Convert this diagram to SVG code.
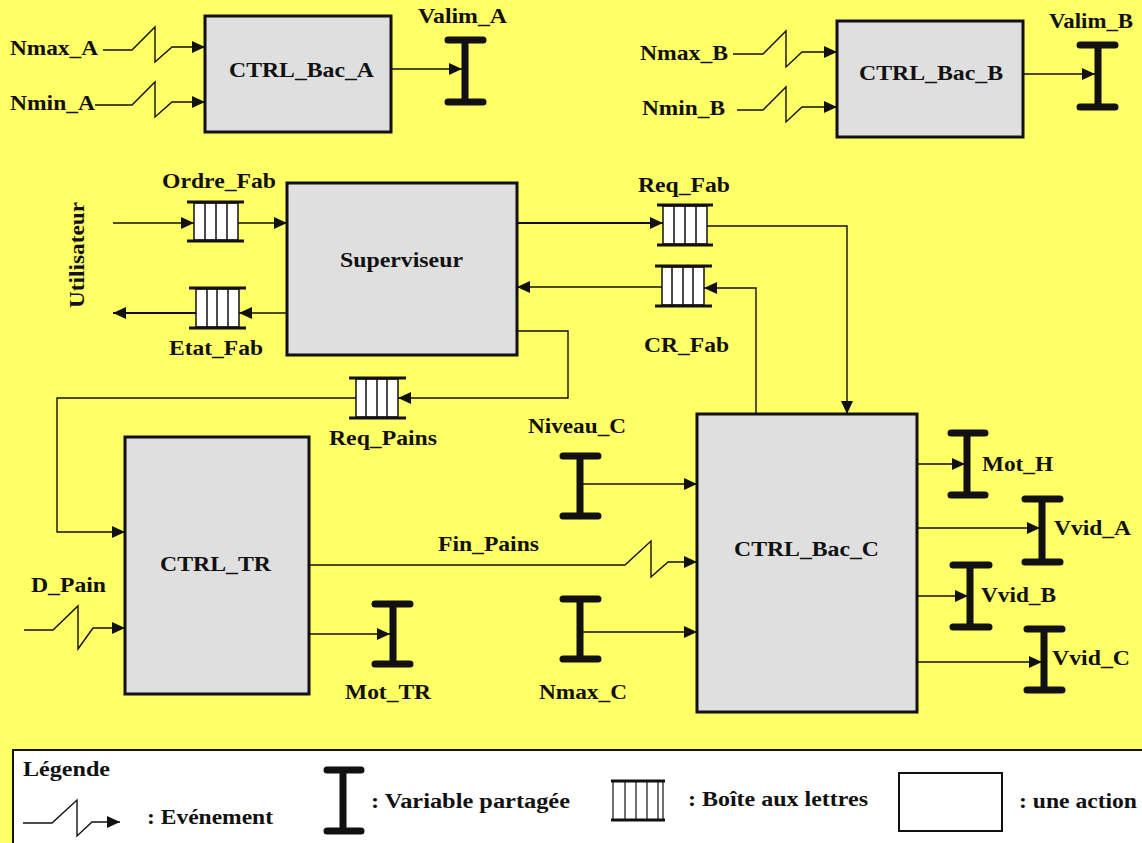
<svg xmlns="http://www.w3.org/2000/svg" width="1142" height="843" viewBox="0 0 1142 843" font-family="Liberation Serif, DejaVu Serif, serif">
<defs>
<style>
.bg{fill:#FFFF66}
.box{fill:#DFDFDF;stroke:#111;stroke-width:3}
.lbl{font-size:22px;font-weight:bold;fill:#111}
.leg{font-size:20px;font-weight:bold;fill:#111}
.ln{fill:none;stroke:#111;stroke-width:1.4}
.lnb{fill:none;stroke:#111;stroke-width:2.2}
.var{fill:none;stroke:#111;stroke-width:7;stroke-linecap:round}
.mbh{stroke:#111;stroke-width:3}
.mbi{fill:#fff;stroke:#111;stroke-width:1.5}
</style>
<marker id="ah" markerUnits="userSpaceOnUse" markerWidth="14" markerHeight="12" refX="13" refY="6" orient="auto">
<path d="M0,0 L13,6 L0,12 z" fill="#111"/>
</marker>
</defs>
<rect class="bg" x="0" y="0" width="1142" height="843"/>

<g id="connectors">
<polyline class="ln" points="103,50 132,50 155,27 155,62 172,47 205,47" marker-end="url(#ah)"/>
<polyline class="ln" points="95,105 132,105 155,82 155,117 172,102 205,102" marker-end="url(#ah)"/>
<line class="ln" x1="392" y1="69" x2="462" y2="69" marker-end="url(#ah)"/>
<polyline class="ln" points="733,54 763,54 786,31 786,67 802,52 837,52" marker-end="url(#ah)"/>
<polyline class="ln" points="737,110 763,110 786,87 786,122 802,107 837,107" marker-end="url(#ah)"/>
<line class="ln" x1="1024" y1="74" x2="1095" y2="74" marker-end="url(#ah)"/>
<line class="ln" x1="113" y1="223" x2="194" y2="223" marker-end="url(#ah)"/>
<line class="ln" x1="238" y1="223" x2="287" y2="223" marker-end="url(#ah)"/>
<line class="ln" x1="287" y1="313" x2="239" y2="313" marker-end="url(#ah)"/>
<line class="lnb" x1="196" y1="313" x2="113" y2="313" marker-end="url(#ah)"/>
<line class="lnb" x1="517" y1="223" x2="663" y2="223" marker-end="url(#ah)"/>
<polyline class="ln" points="707,226 847,226 847,414" marker-end="url(#ah)"/>
<polyline class="ln" points="756,414 756,288 704,288" marker-end="url(#ah)"/>
<line class="ln" x1="662" y1="287" x2="517" y2="287" marker-end="url(#ah)"/>
<polyline class="ln" points="517,331 568,331 568,398 398,398" marker-end="url(#ah)"/>
<polyline class="ln" points="356,398 57,398 57,532 125,532" marker-end="url(#ah)"/>
<polyline class="ln" points="24,630 53,630 78,606 78,649 93,628 125,628" marker-end="url(#ah)"/>
<polyline class="ln" points="309,565 625,565 651,541 651,577 668,562 697,562" marker-end="url(#ah)"/>
<line class="ln" x1="309" y1="634" x2="390" y2="634" marker-end="url(#ah)"/>
<line class="ln" x1="580" y1="484" x2="697" y2="484" marker-end="url(#ah)"/>
<line class="ln" x1="580" y1="632" x2="697" y2="632" marker-end="url(#ah)"/>
<line class="ln" x1="917" y1="464" x2="965" y2="464" marker-end="url(#ah)"/>
<line class="ln" x1="917" y1="528" x2="1040" y2="528" marker-end="url(#ah)"/>
<line class="ln" x1="917" y1="596" x2="968" y2="596" marker-end="url(#ah)"/>
<line class="ln" x1="910" y1="662" x2="1042" y2="662" marker-end="url(#ah)"/>
</g>

<g id="CTRL_Bac_A">
<rect class="box" x="205" y="16" width="186" height="116"/>
<text class="lbl" x="229" y="77" textLength="145" lengthAdjust="spacingAndGlyphs">CTRL_Bac_A</text>
</g>
<g id="CTRL_Bac_B">
<rect class="box" x="837" y="21" width="186" height="116"/>
<text class="lbl" x="859" y="80" textLength="144" lengthAdjust="spacingAndGlyphs">CTRL_Bac_B</text>
</g>
<g id="Superviseur">
<rect class="box" x="287" y="183" width="230" height="172"/>
<text class="lbl" x="340" y="267" textLength="123" lengthAdjust="spacingAndGlyphs">Superviseur</text>
</g>
<g id="CTRL_TR">
<rect class="box" x="125" y="437" width="184" height="257"/>
<text class="lbl" x="160" y="571" textLength="111" lengthAdjust="spacingAndGlyphs">CTRL_TR</text>
</g>
<g id="CTRL_Bac_C">
<rect class="box" x="697" y="414" width="220" height="298"/>
<text class="lbl" x="734" y="556" textLength="145" lengthAdjust="spacingAndGlyphs">CTRL_Bac_C</text>
</g>

<g id="Nmax_A"><text class="lbl" x="10" y="55" textLength="88" lengthAdjust="spacingAndGlyphs">Nmax_A</text></g>
<g id="Nmin_A"><text class="lbl" x="10" y="110" textLength="85" lengthAdjust="spacingAndGlyphs">Nmin_A</text></g>
<g id="Nmax_B"><text class="lbl" x="640" y="60" textLength="88" lengthAdjust="spacingAndGlyphs">Nmax_B</text></g>
<g id="Nmin_B"><text class="lbl" x="642" y="115" textLength="83" lengthAdjust="spacingAndGlyphs">Nmin_B</text></g>
<g id="D_Pain"><text class="lbl" x="31" y="592" textLength="75" lengthAdjust="spacingAndGlyphs">D_Pain</text></g>
<g id="Utilisateur"><text class="lbl" x="84" y="255" transform="rotate(-90 84 255)" text-anchor="middle" textLength="106" lengthAdjust="spacingAndGlyphs">Utilisateur</text></g>
<g id="Fin_Pains"><text class="lbl" x="438" y="551" textLength="101" lengthAdjust="spacingAndGlyphs">Fin_Pains</text></g>

<g id="Valim_A">
<path class="var" d="M448,40 H483 M465,40 V102 M448,102 H483"/>
<text class="lbl" x="418" y="23" textLength="89" lengthAdjust="spacingAndGlyphs">Valim_A</text>
</g>
<g id="Valim_B">
<path class="var" d="M1080,45 H1115 M1098,45 V107 M1080,107 H1115"/>
<text class="lbl" x="1049" y="28" textLength="84" lengthAdjust="spacingAndGlyphs">Valim_B</text>
</g>
<g id="Mot_TR">
<path class="var" d="M375,604 H410 M393,604 V664 M375,664 H410"/>
<text class="lbl" x="345" y="699" textLength="86" lengthAdjust="spacingAndGlyphs">Mot_TR</text>
</g>
<g id="Niveau_C">
<path class="var" d="M563,456 H598 M580,456 V516 M563,516 H598"/>
<text class="lbl" x="528" y="433" textLength="98" lengthAdjust="spacingAndGlyphs">Niveau_C</text>
</g>
<g id="Nmax_C">
<path class="var" d="M563,599 H598 M580,599 V659 M563,659 H598"/>
<text class="lbl" x="539" y="699" textLength="88" lengthAdjust="spacingAndGlyphs">Nmax_C</text>
</g>
<g id="Mot_H">
<path class="var" d="M951,433 H985 M967,433 V495 M951,495 H985"/>
<text class="lbl" x="982" y="471" textLength="71" lengthAdjust="spacingAndGlyphs">Mot_H</text>
</g>
<g id="Vvid_A">
<path class="var" d="M1025,499 H1060 M1042,499 V562 M1025,562 H1060"/>
<text class="lbl" x="1054" y="535" textLength="77" lengthAdjust="spacingAndGlyphs">Vvid_A</text>
</g>
<g id="Vvid_B">
<path class="var" d="M953,565 H989 M970,565 V627 M953,627 H989"/>
<text class="lbl" x="981" y="602" textLength="75" lengthAdjust="spacingAndGlyphs">Vvid_B</text>
</g>
<g id="Vvid_C">
<path class="var" d="M1027,629 H1062 M1044,629 V690 M1027,690 H1062"/>
<text class="lbl" x="1052" y="665" textLength="78" lengthAdjust="spacingAndGlyphs">Vvid_C</text>
</g>

<g id="Ordre_Fab">
<rect class="mbi" x="194" y="203" width="44" height="37"/>
<path class="mbi" d="M205,203 V240 M216,203 V240 M227,203 V240"/>
<path class="mbh" d="M187,202 H244 M187,241 H244"/>
<text class="lbl" x="162" y="188" textLength="114" lengthAdjust="spacingAndGlyphs">Ordre_Fab</text>
</g>
<g id="Etat_Fab">
<rect class="mbi" x="196" y="289" width="43" height="38"/>
<path class="mbi" d="M207,289 V327 M217,289 V327 M228,289 V327"/>
<path class="mbh" d="M189,288 H246 M189,328 H246"/>
<text class="lbl" x="169" y="355" textLength="94" lengthAdjust="spacingAndGlyphs">Etat_Fab</text>
</g>
<g id="Req_Fab">
<rect class="mbi" x="663" y="206" width="44" height="38"/>
<path class="mbi" d="M674,206 V244 M685,206 V244 M696,206 V244"/>
<path class="mbh" d="M657,205 H713 M657,245 H713"/>
<text class="lbl" x="638" y="192" textLength="92" lengthAdjust="spacingAndGlyphs">Req_Fab</text>
</g>
<g id="CR_Fab">
<rect class="mbi" x="662" y="267" width="42" height="38"/>
<path class="mbi" d="M672,267 V305 M683,267 V305 M693,267 V305"/>
<path class="mbh" d="M655,266 H712 M655,306 H712"/>
<text class="lbl" x="644" y="352" textLength="85" lengthAdjust="spacingAndGlyphs">CR_Fab</text>
</g>
<g id="Req_Pains">
<rect class="mbi" x="356" y="379" width="42" height="38"/>
<path class="mbi" d="M366,379 V417 M377,379 V417 M387,379 V417"/>
<path class="mbh" d="M349,378 H406 M349,418 H406"/>
<text class="lbl" x="329" y="445" textLength="108" lengthAdjust="spacingAndGlyphs">Req_Pains</text>
</g>

<g id="legend">
<rect x="13" y="750" width="1135" height="100" fill="#fff" stroke="#111" stroke-width="2"/>
<text class="leg" x="23" y="776" textLength="87" lengthAdjust="spacingAndGlyphs">Légende</text>
<polyline class="ln" points="23,823 52,823 77,800 77,836 92,822 120,822" marker-end="url(#ah)"/>
<text class="leg" x="147" y="824" textLength="126" lengthAdjust="spacingAndGlyphs">: Evénement</text>
<path class="var" d="M327,770 H361 M343,770 V831 M327,831 H361"/>
<text class="leg" x="371" y="808" textLength="199" lengthAdjust="spacingAndGlyphs">: Variable partagée</text>
<path fill="none" stroke="#111" stroke-width="1.2" d="M613,781 V820 M625,781 V820 M636,781 V820 M647,781 V820 M658,781 V820 M663,781 V820"/>
<path class="mbh" d="M611,781 H665 M611,820 H665"/>
<text class="leg" x="688" y="806" textLength="180" lengthAdjust="spacingAndGlyphs">: Boîte aux lettres</text>
<rect x="899" y="773" width="103" height="58" fill="#fff" stroke="#111" stroke-width="2"/>
<text class="leg" x="1019" y="808" textLength="118" lengthAdjust="spacingAndGlyphs">: une action</text>
</g>
</svg>
